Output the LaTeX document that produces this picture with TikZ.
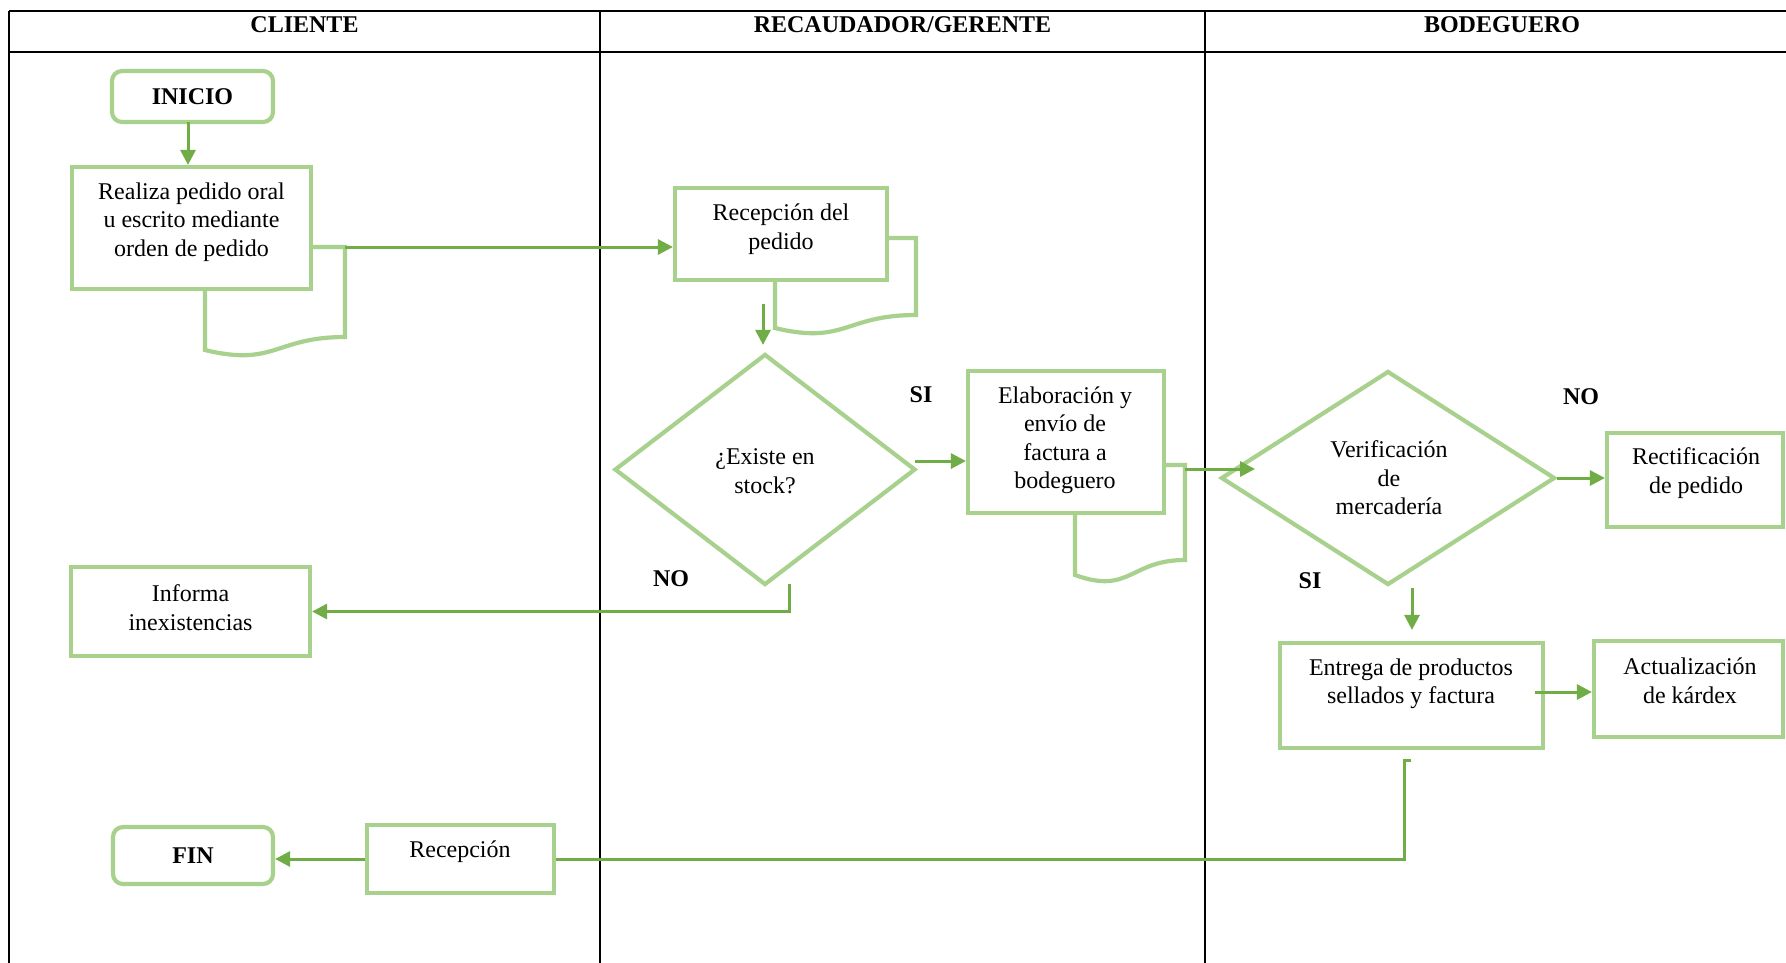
\documentclass[tikz,border=0pt]{standalone}
\usepackage{fontspec}
\setmainfont{Liberation Serif}
\usetikzlibrary{arrows.meta,shapes.geometric,calc}
\definecolor{boxgreen}{HTML}{A9D18E}
\definecolor{arrgreen}{HTML}{70AD47}
\begin{document}
\begin{tikzpicture}[x=1pt,y=-1pt,
  every node/.style={font=\fontsize{24}{28.5}\selectfont},
  box/.style={draw=boxgreen, line width=4.2pt, fill=white, inner sep=0pt, rectangle},
  term/.style={box, rounded corners=10pt},
  dec/.style={draw=boxgreen, line width=4.2pt, fill=white, diamond, inner sep=0pt},
  docback/.style={draw=boxgreen, line width=4.2pt, line join=miter},
  txt/.style={align=center, inner sep=0pt, text=black},
  lbl/.style={font=\fontsize{24}{28.5}\selectfont\bfseries, inner sep=0pt},
  arr/.style={draw=arrgreen, line width=3pt, -{Triangle[length=15pt,width=15pt]}},
  ln/.style={draw=arrgreen, line width=3pt},
  lane/.style={draw=black, line width=2.2pt},
]
\useasboundingbox[fill=white] (0,0) rectangle (1786,962);

% swimlanes
\draw[lane] (9,11) -- (1790,11);
\draw[lane] (9,52) -- (1790,52);
\draw[lane] (9,11) -- (9,965);
\draw[lane] (600,11) -- (600,965);
\draw[lane] (1205,11) -- (1205,965);
\node[lbl] (h1) at (304.5,25) {CLIENTE};
\node[lbl] (h2) at (902.5,25) {RECAUDADOR/GERENTE};
\node[lbl] (h3) at (1502,25) {BODEGUERO};

% document back shapes
\draw[docback] (205,247) -- (205,350) .. controls (275,367) and (275,337) .. (345,337) -- (345,247) -- cycle;
\draw[docback] (775,238) -- (775,328) .. controls (845,345) and (845,315) .. (916,315) -- (916,238) -- cycle;
\draw[docback] (1075,465) -- (1075,575) .. controls (1130,595) and (1130,560) .. (1185,560) -- (1185,465) -- cycle;

% boxes
\node[term, minimum width=161pt, minimum height=51pt] (inicio) at (192.5,96.5) {};
\node[lbl] (inicio-t) at (192.5,97) {INICIO};
\node[box, minimum width=239pt, minimum height=122pt] (realiza) at (191.5,228) {};
\node[txt] (realiza-t) at (191.5,222) {Realiza pedido oral\\u escrito mediante\\orden de pedido};
\node[box, minimum width=212pt, minimum height=92pt] (recep) at (781,234) {};
\node[txt] (recep-t) at (781,229) {Recepción del\\pedido};
\node[dec, minimum width=301pt, minimum height=231pt] (stock) at (765,469.5) {};
\node[txt] (stock-t) at (765,471) {¿Existe en\\stock?};
\node[box, minimum width=196pt, minimum height=142pt] (elab) at (1066,442) {};
\node[txt] (elab-t) at (1065,440) {Elaboración y\\envío de\\factura a\\bodeguero};
\node[box, minimum width=239pt, minimum height=89pt] (informa) at (190.5,611.5) {};
\node[txt] (informa-t) at (190.5,607.5) {Informa\\inexistencias};
\node[term, minimum width=160pt, minimum height=57pt] (fin) at (193,855.5) {};
\node[lbl] (fin-t) at (193,856) {FIN};
\node[box, minimum width=187pt, minimum height=68pt] (recep2) at (460.5,859) {};
\node[txt] (recep2-t) at (460,852) {Recepción};
\node[dec, minimum width=334pt, minimum height=214pt] (verif) at (1388,478) {};
\node[txt] (verif-t) at (1389,478) {Verificación\\de\\mercadería};
\node[box, minimum width=176pt, minimum height=94pt] (rect) at (1695,480) {};
\node[txt] (rect-t) at (1696,473) {Rectificación\\de pedido};
\node[box, minimum width=263pt, minimum height=105pt] (entrega) at (1411.5,695.5) {};
\node[txt] (entrega-t) at (1411,684) {Entrega de productos\\sellados y factura};
\node[box, minimum width=189pt, minimum height=96pt] (actual) at (1688.5,689) {};
\node[txt] (actual-t) at (1690,681) {Actualización\\de kárdex};

% labels
\node[lbl] (si1) at (921,395) {SI};
\node[lbl] (no1) at (671,579) {NO};
\node[lbl] (no2) at (1581,397) {NO};
\node[lbl] (si2) at (1310,581) {SI};

% connectors
\coordinate (i1) at (188,122);
\draw[arr] (i1) -- (i1 |- realiza.north);
\coordinate (d1) at (345,247);
\draw[arr] (d1) -- (d1 -| recep.west);
\coordinate (r1) at (763,304);
\draw[arr, shorten >=7pt] (r1) -- (r1 |- stock.north);
\coordinate (s1) at (915,461);
\draw[arr] (s1) -- (s1 -| elab.west);
\coordinate (d3) at (1185,469);
\coordinate (v1) at (1255,469);
\draw[arr] (d3) -- (v1);
\draw[arr] (verif.east) -- (verif.east -| rect.west);
\coordinate (v2) at (1412,588);
\draw[arr, shorten >=11pt] (v2) -- (v2 |- entrega.north);
\coordinate (e2) at (1535,692);
\draw[arr] (e2) -- (e2 -| actual.west);
\coordinate (n1) at (789,584);
\draw[arr] (n1) |- (informa.east);
\coordinate (e1) at (1411,760);
\draw[ln] (e1) -- (1404,760) |- (recep2.east);
\draw[arr] (recep2.west) -- (recep2.west -| fin.east);
\end{tikzpicture}
\end{document}
